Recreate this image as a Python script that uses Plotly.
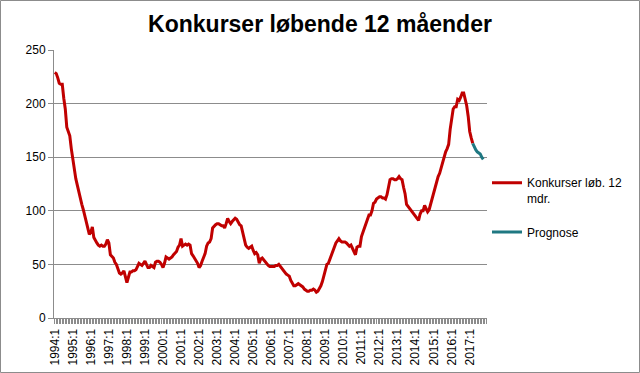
import plotly.graph_objects as go

# Categories: monthly 1994:1 .. 2017:12
years = list(range(1994, 2018))
categories = [f"{y}:{m}" for y in years for m in range(1, 13)]

# Tick labels (every January)
tick_labels = [c if c.split(":")[1] == "1" else "" for c in categories]

# Actual series (Konkurser løb. 12 mdr.), 1994:1 .. 2017:3
v1994 = [229, 228, 224, 219, 218, 218, 205, 195, 178, 174, 170, 158]
v1995 = [147, 137, 130, 124, 117, 112, 106, 101, 95, 91, 83, 78]
v1996 = [80, 85, 75, 72, 70, 68, 67, 68, 67, 67, 69, 73]
v1997 = [70, 59, 57, 56, 52, 50, 46, 42, 41, 42, 44, 37]
v1998 = [33, 38, 43, 43, 44, 44, 45, 48, 51, 50, 49, 51]
v1999 = [53, 50, 47, 47, 49, 48, 47, 52, 53, 53, 52, 50]
v2000 = [47, 51, 57, 56, 55, 56, 57, 59, 61, 62, 66, 68]
v2001 = [74, 67, 68, 69, 68, 69, 68, 60, 58, 56, 54, 51]
v2002 = [47, 49, 53, 57, 60, 67, 70, 71, 74, 84, 86, 87]
v2003 = [88, 88, 87, 86, 86, 84, 88, 93, 90, 88, 90, 92]
v2004 = [93, 92, 89, 87, 86, 80, 74, 68, 66, 65, 66, 67]
v2005 = [63, 60, 61, 59, 51, 55, 56, 54, 53, 51, 49, 48]
v2006 = [48, 48, 48, 49, 49, 50, 48, 47, 45, 43, 41, 40]
v2007 = [39, 35, 32, 30, 30, 31, 32, 31, 30, 29, 27, 26]
v2008 = [25, 25, 26, 26, 27, 26, 24, 25, 27, 30, 34, 40]
v2009 = [44, 50, 51, 55, 59, 62, 65, 70, 72, 74, 72, 71]
v2010 = [71, 71, 70, 68, 67, 68, 65, 61, 59, 66, 67, 67]
v2011 = [76, 80, 84, 88, 94, 96, 96, 100, 107, 108, 111, 112]
v2012 = [113, 113, 112, 112, 111, 115, 121, 129, 130, 130, 129, 129]
v2013 = [130, 132, 130, 129, 122, 116, 106, 104, 103, 100, 98, 96]
v2014 = [94, 92, 91, 97, 100, 100, 105, 102, 99, 101, 106, 112]
v2015 = [117, 121, 128, 132, 135, 140, 146, 151, 155, 158, 162, 176]
v2016 = [188, 195, 197, 197, 204, 203, 206, 210, 210, 205, 198, 188]
v2017 = [174, 168, 163]

actual = (v1994 + v1995 + v1996 + v1997 + v1998 + v1999 + v2000 + v2001 + v2002
          + v2003 + v2004 + v2005 + v2006 + v2007 + v2008 + v2009 + v2010 + v2011
          + v2012 + v2013 + v2014 + v2015 + v2016 + v2017)

# Prognose 2017:3 .. 2017:10
prognose = [163, 159, 157, 155, 154, 153, 150, 148]
prognose_start = len(actual) - 1

font_family = "Liberation Sans, Arial, sans-serif"
grid_col = "#8c8c8c"

fig = go.Figure()
fig.add_trace(go.Scatter(
    x=categories[:len(actual)], y=actual, mode="lines",
    name="Konkurser løb. 12<br>mdr.", showlegend=True,
    line=dict(color="#C00000", width=3), legend="legend",
))
fig.add_trace(go.Scatter(
    x=categories[prognose_start:prognose_start + len(prognose)], y=prognose, mode="lines",
    name="Prognose", showlegend=True,
    line=dict(color="#1F7882", width=3), legend="legend2",
))

L, R, T, B = 54, 153, 50, 55
W, H = 640, 373
pw, ph = W - L - R, H - T - B

def px_x(p):
    return (p - L) / pw

def px_y(p):
    return (H - B - p) / ph

fig.update_layout(
    width=W, height=H,
    margin=dict(l=L, r=R, t=T, b=B, autoexpand=False),
    showlegend=True,
    paper_bgcolor="white", plot_bgcolor="white",
    font=dict(family=font_family, size=12, color="#000000"),
    title=dict(text="<b>Konkurser løbende 12 måender</b>", x=0.5, xanchor="center",
               y=1 - 24 / H, yanchor="middle", yref="container",
               font=dict(size=23, color="#000000", family=font_family)),
    xaxis=dict(
        type="category", categoryorder="array", categoryarray=categories,
        range=[-0.5, len(categories) - 0.5],
        tickmode="array", tickvals=categories, ticktext=tick_labels,
        tickangle=-90, ticks="outside", ticklen=5, tickcolor=grid_col, tickwidth=1,
        showline=True, linecolor=grid_col, linewidth=1,
        showgrid=False, tickfont=dict(size=12, color="#000000"),
        automargin=False, fixedrange=True,
    ),
    yaxis=dict(
        range=[0, 250], tickvals=[0, 50, 100, 150, 200, 250],
        showgrid=True, gridcolor=grid_col, gridwidth=1,
        showline=True, linecolor=grid_col, linewidth=1,
        ticks="outside", ticklen=5, tickcolor=grid_col,
        zeroline=False, tickfont=dict(size=12, color="#000000"),
        automargin=False, fixedrange=True,
    ),
    legend=dict(x=px_x(487), xanchor="left", y=px_y(191), yanchor="middle",
                valign="top", font=dict(size=12, color="#000000"),
                bgcolor="rgba(0,0,0,0)"),
    legend2=dict(x=px_x(487), xanchor="left", y=px_y(232), yanchor="middle",
                 font=dict(size=12, color="#000000"),
                 bgcolor="rgba(0,0,0,0)"),
    shapes=[dict(type="rect", xref="paper", yref="paper",
                 x0=px_x(0.5), x1=px_x(639.5), y0=px_y(372.5), y1=px_y(0.5),
                 line=dict(color="#8c8c8c", width=1), fillcolor="rgba(0,0,0,0)")],
)

fig.write_html(
    "out.html",
    config={"displayModeBar": False},
    post_script="document.body.style.margin='0';document.body.style.overflow='hidden';",
)
